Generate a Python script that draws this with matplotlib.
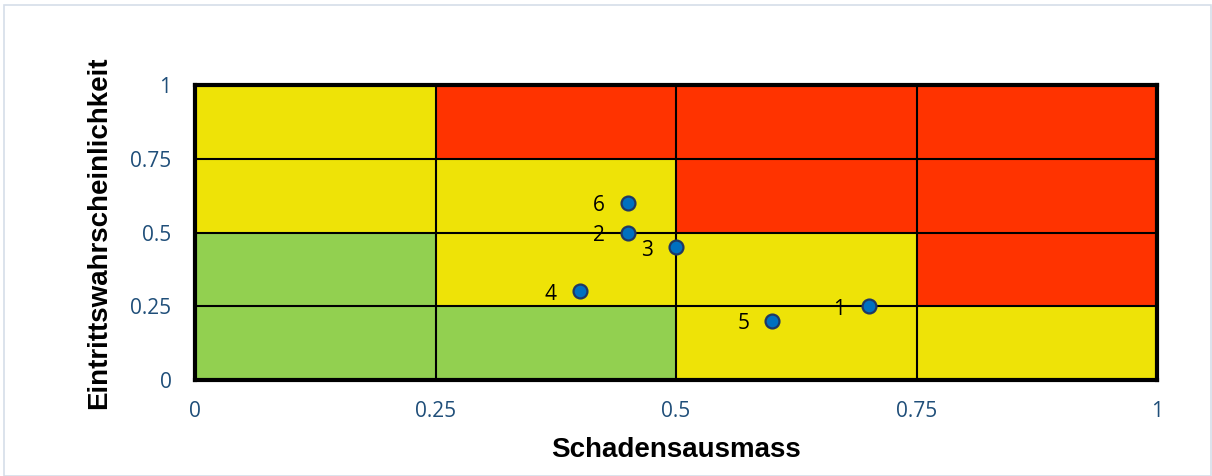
"""Risikomatrix: Eintrittswahrscheinlichkeit vs. Schadensausmass."""

import matplotlib

matplotlib.use("Agg")

import matplotlib.pyplot as plt
from matplotlib.patches import Rectangle

# Zellgrenzen und Farbklassen (Zeilen von unten nach oben)
CELL_EDGES = [0, 0.25, 0.5, 0.75, 1.0]
CELL_CLASSES = [
    ["g", "g", "y", "y"],
    ["g", "y", "y", "r"],
    ["y", "y", "r", "r"],
    ["y", "r", "r", "r"],
]
CLASS_COLORS = {"g": "#92d050", "y": "#eee307", "r": "#ff3300"}

# Risiken
risk_ids = ["1", "2", "3", "4", "5", "6"]
schadensausmass = [0.7, 0.45, 0.5, 0.4, 0.6, 0.45]
eintrittswahrscheinlichkeit = [0.25, 0.5, 0.45, 0.3, 0.2, 0.6]

ticks = [0, 0.25, 0.5, 0.75, 1]
tick_labels = ["0", "0.25", "0.5", "0.75", "1"]

TICK_COLOR = "#1f4e79"

fig = plt.figure(figsize=(12.12, 4.76), dpi=100)
fig.patches.append(
    Rectangle((0.003, 0.0), 0.996, 0.99, transform=fig.transFigure,
              fill=False, edgecolor="#d6dee9", linewidth=1.2)
)
ax = fig.add_axes([0.161, 0.2017, 0.7937, 0.6197])

for row, classes in enumerate(CELL_CLASSES):
    for col, cls in enumerate(classes):
        x0, x1 = CELL_EDGES[col], CELL_EDGES[col + 1]
        y0, y1 = CELL_EDGES[row], CELL_EDGES[row + 1]
        ax.add_patch(Rectangle((x0, y0), x1 - x0, y1 - y0,
                               facecolor=CLASS_COLORS[cls], edgecolor="none", zorder=0))

for edge in CELL_EDGES[1:-1]:
    ax.axvline(edge, color="black", linewidth=1.5, zorder=1)
    ax.axhline(edge, color="black", linewidth=1.5, zorder=1)

ax.plot(schadensausmass, eintrittswahrscheinlichkeit, linestyle="none", marker="o",
        markersize=10, markerfacecolor="#0070c0", markeredgecolor="#1f3864",
        markeredgewidth=1.6, zorder=3, clip_on=False)

for label, x, y in zip(risk_ids, schadensausmass, eintrittswahrscheinlichkeit):
    ax.annotate(label, (x, y), xytext=(-21, -2), textcoords="offset points",
                ha="center", va="center", fontsize=15, family="Open Sans", color="black")

ax.set_xlim(0, 1)
ax.set_ylim(0, 1)
ax.set_xticks(ticks, tick_labels)
ax.set_yticks(ticks, tick_labels)
ax.tick_params(length=0, colors=TICK_COLOR, labelsize=15)
for lab in ax.get_xticklabels() + ax.get_yticklabels():
    lab.set_family("Open Sans")
ax.tick_params(axis="y", pad=17)
ax.tick_params(axis="x", pad=15)

for spine in ax.spines.values():
    spine.set_linewidth(3)
    spine.set_color("black")
    spine.set_zorder(2)

ax.set_xlabel("Schadensausmass", fontsize=20, fontweight="bold",
              family="Liberation Sans", labelpad=11)
ax.set_ylabel("Eintrittswahrscheinlichkeit", fontsize=20, fontweight="bold",
              family="Liberation Sans", labelpad=13)

fig.savefig("out.png", dpi=100)
plt.close(fig)
